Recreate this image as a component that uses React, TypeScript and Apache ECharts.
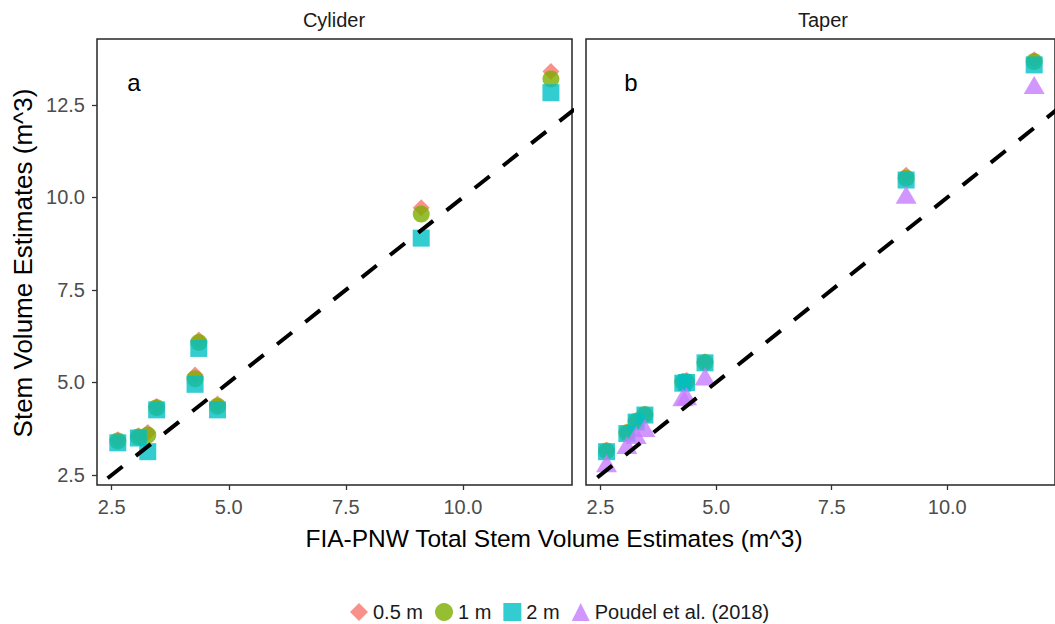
import React, { useEffect, useRef } from "react";
import * as echarts from "echarts";

// FIA-PNW reference volumes (x) shared by both panels
const fiaVolume = [2.63, 3.07, 3.27, 3.46, 4.28, 4.36, 4.76, 9.11, 11.88];

// Cylinder method estimates by segment length
const cylinder05 = [3.45, 3.56, 3.65, 4.35, 5.2, 6.15, 4.42, 9.72, 13.4];
const cylinder1 = [3.42, 3.53, 3.58, 4.32, 5.1, 6.08, 4.36, 9.55, 13.2];
const cylinder2 = [3.37, 3.5, 3.13, 4.26, 4.95, 5.92, 4.26, 8.9, 12.83];

// Taper method estimates by segment length
const taper05 = [3.17, 3.66, 3.97, 4.15, 5.03, 5.05, 5.56, 10.6, 13.72];
const taper1 = [3.15, 3.64, 3.95, 4.13, 5.01, 5.02, 5.54, 10.52, 13.67];
const taper2 = [3.13, 3.62, 3.93, 4.12, 4.98, 5.0, 5.53, 10.47, 13.58];
const poudel2018 = [2.82, 3.31, 3.58, 3.77, 4.6, 4.63, 5.16, 10.07, 13.04];

const xTicks = [2.5, 5.0, 7.5, 10.0];
const yTicks = [2.5, 5.0, 7.5, 10.0, 12.5];
const panelTitles = ["Cylider", "Taper"];
const panelTags = ["a", "b"];
const seriesNames = ["0.5 m", "1 m", "2 m", "Poudel et al. (2018)"];

const X_MIN = 2.186;
const X_MAX = 12.33;
const Y_MIN = 2.23;
const Y_MAX = 14.28;

const COLORS = ["#F8766D", "#7CAE00", "#00BFC4", "#C77CFF"];
const SYMBOLS = ["diamond", "circle", "rect", "triangle"];
const SIZES: any[] = [17, 17, 17, [21, 18]];

const FONT = "'Liberation Sans', Arial, sans-serif";

const pairs = (ys: number[]) => fiaVolume.map((x, i) => [x, ys[i]]);

export default function App() {
  const ref = useRef<HTMLDivElement>(null);

  useEffect(() => {
    if (!ref.current) return;
    const chart = echarts.init(ref.current, null, { renderer: "svg" });

    const grids = [
      { left: 97, top: 39, width: 475, height: 446 },
      { left: 586, top: 39, width: 475, height: 446 },
    ].map((g) => ({
      ...g,
      show: true,
      borderColor: "#262626",
      borderWidth: 1.5,
      backgroundColor: "#fff",
    }));

    const xAxes = [0, 1].map((i) => ({
      type: "value",
      gridIndex: i,
      min: X_MIN,
      max: X_MAX,
      splitLine: { show: false },
      axisLine: { show: false },
      axisTick: {
        show: true,
        length: 5,
        lineStyle: { color: "#333", width: 1.3 },
        customValues: xTicks,
      },
      axisLabel: {
        show: true,
        customValues: xTicks,
        formatter: (v: number) => v.toFixed(1),
        color: "#4D4D4D",
        fontSize: 20,
        fontFamily: FONT,
        margin: 12,
      },
    }));

    const yAxes = [0, 1].map((i) => ({
      type: "value",
      gridIndex: i,
      min: Y_MIN,
      max: Y_MAX,
      splitLine: { show: false },
      axisLine: { show: false },
      axisTick: {
        show: i === 0,
        length: 5,
        lineStyle: { color: "#333", width: 1.3 },
        customValues: yTicks,
      },
      axisLabel: {
        show: i === 0,
        customValues: yTicks,
        formatter: (v: number) => v.toFixed(1),
        color: "#4D4D4D",
        fontSize: 20,
        fontFamily: FONT,
        margin: 12,
      },
    }));

    const scatter = (name: number, idx: number, ys: number[]) => ({
      name: seriesNames[name],
      type: "scatter",
      xAxisIndex: idx,
      yAxisIndex: idx,
      symbol: SYMBOLS[name],
      symbolSize: SIZES[name],
      itemStyle: { color: COLORS[name], opacity: 0.8 },
      data: pairs(ys),
      z: 2 + name,
    });

    const oneToOne = (idx: number) => ({
      type: "line",
      xAxisIndex: idx,
      yAxisIndex: idx,
      data: [
        [0, 0],
        [15, 15],
      ],
      symbol: "none",
      clip: true,
      silent: true,
      lineStyle: { color: "#000", width: 4, type: [19, 17], cap: "butt" },
      z: 10,
    });

    const series = [
      scatter(0, 0, cylinder05),
      scatter(1, 0, cylinder1),
      scatter(2, 0, cylinder2),
      oneToOne(0),
      scatter(0, 1, taper05),
      scatter(1, 1, taper1),
      scatter(2, 1, taper2),
      scatter(3, 1, poudel2018),
      oneToOne(1),
    ];

    const centered = { align: "center", verticalAlign: "middle" };

    const graphic = [
      {
        type: "text",
        x: 334,
        y: 20,
        style: { text: panelTitles[0], font: `20px ${FONT}`, fill: "#1a1a1a", ...centered },
      },
      {
        type: "text",
        x: 823,
        y: 20,
        style: { text: panelTitles[1], font: `20px ${FONT}`, fill: "#1a1a1a", ...centered },
      },
      {
        type: "text",
        x: 134,
        y: 82,
        z: 20,
        style: { text: panelTags[0], font: `24px ${FONT}`, fill: "#000", ...centered },
      },
      {
        type: "text",
        x: 631,
        y: 82,
        z: 20,
        style: { text: panelTags[1], font: `24px ${FONT}`, fill: "#000", ...centered },
      },
      {
        type: "text",
        x: 554,
        y: 538,
        style: {
          text: "FIA-PNW Total Stem Volume Estimates (m^3)",
          font: `24.5px ${FONT}`,
          fill: "#000",
          ...centered,
        },
      },
      {
        type: "text",
        x: 23,
        y: 263,
        rotation: Math.PI / 2,
        style: {
          text: "Stem Volume Estimates (m^3)",
          font: `26px ${FONT}`,
          fill: "#000",
          ...centered,
        },
      },
    ];

    chart.setOption({
      animation: false,
      backgroundColor: "#fff",
      grid: grids,
      xAxis: xAxes,
      yAxis: yAxes,
      series,
      graphic,
      legend: {
        top: 597,
        left: 345,
        itemWidth: 18,
        itemHeight: 18,
        itemGap: 12,
        textStyle: { fontSize: 20, fontFamily: FONT, color: "#1a1a1a" },
        data: seriesNames.map((n, i) => ({ name: n, icon: SYMBOLS[i] })),
      },
    });

    return () => chart.dispose();
  }, []);

  return (
    <div
      ref={ref}
      style={{ position: "fixed", left: 0, top: 0, width: 1055, height: 624, overflow: "hidden" }}
    />
  );
}
